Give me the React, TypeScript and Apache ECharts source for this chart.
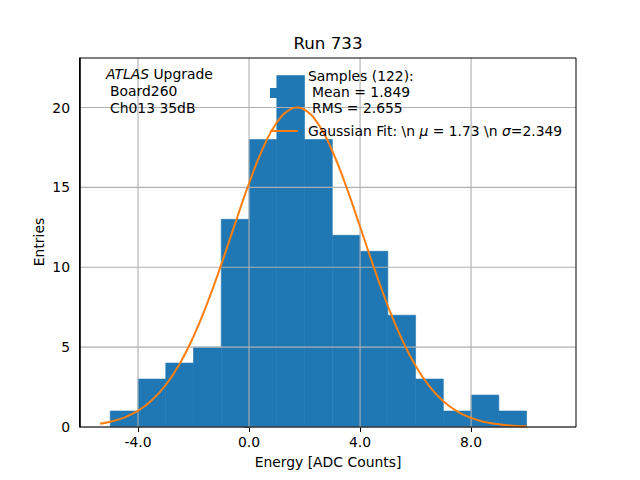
import React, { useEffect, useRef } from 'react';
import * as echarts from 'echarts';

// histogram bins (left edge, width 1) and counts
const binStarts = [-5, -4, -3, -2, -1, 0, 1, 2, 3, 4, 5, 6, 7, 8, 9];
const counts = [1, 3, 4, 5, 13, 18, 22, 18, 12, 11, 7, 3, 1, 2, 1];

// gaussian fit curve
const fitX = [-5.37, -5, -4.5, -4, -3.5, -3, -2.5, -2, -1.5, -1, -0.5, 0, 0.5, 1, 1.5, 1.73, 2, 2.5, 3, 3.5, 4, 4.5, 5, 5.5, 6, 6.5, 7, 7.5, 8, 8.5, 9, 9.5, 10];
const fitY = [0.21, 0.33, 0.59, 1.02, 1.68, 2.63, 3.95, 5.67, 7.77, 10.18, 12.75, 15.25, 17.44, 19.06, 19.9, 20, 19.87, 18.95, 17.28, 15.06, 12.54, 9.98, 7.59, 5.52, 3.83, 2.54, 1.61, 0.98, 0.57, 0.31, 0.17, 0.08, 0.04];

const xTicks = [-4, 0, 4, 8];
const yTicks = [0, 5, 10, 15, 20];

const FONT = 'DejaVu Sans';
const BLUE = '#1f77b4';
const ORANGE = '#ff7f0e';
const GRID = '#b0b0b0';

const App: React.FC = () => {
  const chartRef = useRef<HTMLDivElement | null>(null);

  useEffect(() => {
    if (!chartRef.current) return;
    const chart = echarts.init(chartRef.current, undefined, { renderer: 'svg' });

    const histData = binStarts.map((x, i) => [x, x + 1, counts[i]]);
    const fitData = fitX.map((x, i) => [x, fitY[i]]);

    const options: any = {
      animation: false,
      grid: {
        left: 80,
        right: 64,
        top: 58,
        bottom: 53,
      },
      xAxis: {
        type: 'value',
        min: -6.09,
        max: 11.78,
        name: 'Energy [ADC Counts]',
        nameLocation: 'middle',
        nameGap: 28,
        nameTextStyle: { fontFamily: FONT, fontSize: 13.9, color: '#000' },
        axisLine: { show: false },
        axisTick: { show: true, length: 5, lineStyle: { color: '#000' }, customValues: xTicks },
        axisLabel: {
          customValues: xTicks,
          formatter: (v: number) => v.toFixed(1),
          fontFamily: FONT,
          fontSize: 13.9,
          color: '#000',
          margin: 8,
        },
        splitLine: { show: false },
      },
      yAxis: {
        type: 'value',
        min: 0,
        max: 23.1,
        interval: 5,
        axisLine: { show: false },
        axisTick: { show: true, length: 5, lineStyle: { color: '#000' }, customValues: yTicks },
        axisLabel: {
          customValues: yTicks,
          fontFamily: FONT,
          fontSize: 13.9,
          color: '#000',
          margin: 10,
        },
        splitLine: { show: false },
      },
      series: [
        {
          type: 'custom',
          name: 'hist',
          z: 1,
          encode: { x: [0, 1], y: 2 },
          data: histData,
          renderItem: (params: any, api: any) => {
            const p0 = api.coord([api.value(0), api.value(2)]);
            const p1 = api.coord([api.value(1), 0]);
            return {
              type: 'rect',
              shape: { x: p0[0], y: p0[1], width: p1[0] - p0[0], height: p1[1] - p0[1] },
              style: { fill: BLUE, stroke: BLUE, lineWidth: 0.6 },
            };
          },
        },
        {
          type: 'custom',
          name: 'vgrid',
          z: 2,
          encode: { x: 0, y: 1 },
          data: xTicks.map((v) => [v, 0]),
          renderItem: (params: any, api: any) => {
            const c = api.coord([api.value(0), 0]);
            const cs = params.coordSys;
            return {
              type: 'line',
              shape: { x1: c[0], y1: cs.y, x2: c[0], y2: cs.y + cs.height },
              style: { stroke: GRID, lineWidth: 1.1 },
            };
          },
        },
        {
          type: 'custom',
          name: 'hgrid',
          z: 2,
          encode: { x: 0, y: 1 },
          data: yTicks.map((v) => [0, v]),
          renderItem: (params: any, api: any) => {
            const c = api.coord([0, api.value(1)]);
            const cs = params.coordSys;
            return {
              type: 'line',
              shape: { x1: cs.x, y1: c[1], x2: cs.x + cs.width, y2: c[1] },
              style: { stroke: GRID, lineWidth: 1.1 },
            };
          },
        },
        {
          type: 'line',
          name: 'fit',
          z: 3,
          data: fitData,
          smooth: true,
          symbol: 'none',
          lineStyle: { color: ORANGE, width: 2 },
        },
      ],
      graphic: [
        // axes frame
        {
          type: 'rect',
          shape: { x: 80, y: 58, width: 496, height: 369 },
          style: { fill: 'none', stroke: '#000', lineWidth: 1 },
          z: 20,
        },
        {
          type: 'rect',
          shape: { x: 79, y: 57.5, width: 1.6, height: 370 },
          style: { fill: '#000' },
          z: 20,
        },
        {
          type: 'text',
          x: 328,
          y: 43,
          style: { text: 'Run 733', font: `16.7px "${FONT}"`, fill: '#000', align: 'center', verticalAlign: 'middle' },
          z: 10,
        },
        {
          type: 'text',
          x: 39,
          y: 242,
          rotation: Math.PI / 2,
          style: { text: 'Entries', font: `13.9px "${FONT}"`, fill: '#000', align: 'center', verticalAlign: 'middle' },
          z: 10,
        },
        {
          type: 'text',
          x: 106,
          y: 74,
          style: {
            text: '{i|ATLAS} Upgrade',
            fontFamily: FONT,
            fontSize: 13.9,
            fill: '#000',
            verticalAlign: 'middle',
            rich: { i: { fontFamily: FONT, fontSize: 13.9, fontStyle: 'italic', fill: '#000' } },
          },
          z: 10,
        },
        {
          type: 'text',
          x: 110,
          y: 91,
          style: { text: 'Board260', font: `13.9px "${FONT}"`, fill: '#000', verticalAlign: 'middle' },
          z: 10,
        },
        {
          type: 'text',
          x: 110,
          y: 108,
          style: { text: 'Ch013 35dB', font: `13.9px "${FONT}"`, fill: '#000', verticalAlign: 'middle' },
          z: 10,
        },
        // legend
        {
          type: 'rect',
          shape: { x: 270, y: 88, width: 28, height: 10 },
          style: { fill: BLUE },
          z: 10,
        },
        {
          type: 'text',
          x: 308,
          y: 76,
          style: { text: 'Samples (122):', font: `13.9px "${FONT}"`, fill: '#000', verticalAlign: 'middle' },
          z: 10,
        },
        {
          type: 'text',
          x: 312,
          y: 92,
          style: { text: 'Mean = 1.849', font: `13.9px "${FONT}"`, fill: '#000', verticalAlign: 'middle' },
          z: 10,
        },
        {
          type: 'text',
          x: 312,
          y: 108,
          style: { text: 'RMS = 2.655', font: `13.9px "${FONT}"`, fill: '#000', verticalAlign: 'middle' },
          z: 10,
        },
        {
          type: 'line',
          shape: { x1: 270, y1: 131, x2: 298, y2: 131 },
          style: { stroke: ORANGE, lineWidth: 2 },
          z: 10,
        },
        {
          type: 'text',
          x: 308,
          y: 131,
          style: {
            text: 'Gaussian Fit: \\n {i|μ} = 1.73 \\n {i|σ}=2.349',
            fontFamily: FONT,
            fontSize: 13.9,
            fill: '#000',
            verticalAlign: 'middle',
            rich: { i: { fontFamily: FONT, fontSize: 13.9, fontStyle: 'italic', fill: '#000' } },
          },
          z: 10,
        },
      ],
    };

    chart.setOption(options);
    return () => {
      chart.dispose();
    };
  }, []);

  return (
    <div
      ref={chartRef}
      style={{ position: 'fixed', left: 0, top: 0, width: '640px', height: '480px', background: '#fff' }}
    />
  );
};

export default App;
